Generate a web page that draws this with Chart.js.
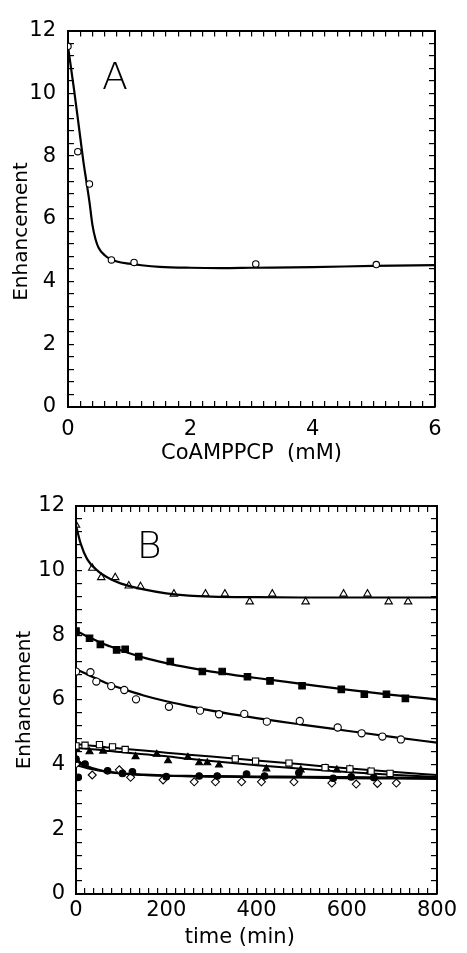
<!DOCTYPE html>
<html><head><meta charset="utf-8">
<script src="https://cdn.jsdelivr.net/npm/chart.js@4/dist/chart.umd.min.js"></script>
<style>
html,body{margin:0;padding:0;background:#fff;width:467px;height:953px;overflow:hidden}
canvas{position:absolute;left:0}
#ca{top:0}
#cb{top:470px}
</style></head><body>
<canvas id="ca" width="467" height="470"></canvas>
<canvas id="cb" width="467" height="483"></canvas>
<script>
// ---------- Panel A data ----------
const concA = [0, 0.16, 0.35, 0.71, 1.08, 3.07, 5.04];
const enhA  = [11.5, 8.14, 7.11, 4.69, 4.61, 4.56, 4.54];
const fitConcA = [0, 0.1, 0.2, 0.25, 0.3, 0.35, 0.4, 0.45, 0.5, 0.6, 0.7, 0.8, 1.0, 1.2, 1.5, 2, 2.5, 3, 4, 5, 6];
const fitEnhA  = [11.5, 10.1, 8.6, 7.85, 7.2, 6.55, 5.8, 5.35, 5.08, 4.84, 4.71, 4.64, 4.57, 4.52, 4.47, 4.44, 4.43, 4.44, 4.46, 4.5, 4.52];

// ---------- Panel B data ----------
const tTri = [0, 36, 56, 87, 117, 143, 217, 287, 330, 385, 435, 509, 593, 646, 693, 736];
const eTri = [11.41, 10.08, 9.79, 9.79, 9.53, 9.51, 9.28, 9.28, 9.28, 9.04, 9.28, 9.04, 9.28, 9.28, 9.04, 9.04];
const tSq  = [0, 30, 54, 90, 109, 139, 209, 280, 324, 380, 430, 501, 588, 639, 688, 730];
const eSq  = [8.13, 7.91, 7.72, 7.55, 7.57, 7.34, 7.19, 6.88, 6.88, 6.72, 6.59, 6.44, 6.33, 6.18, 6.18, 6.05];
const tCi  = [0, 32, 45, 78, 107, 133, 206, 275, 317, 373, 423, 496, 580, 633, 679, 720];
const eCi  = [6.88, 6.86, 6.57, 6.43, 6.31, 6.02, 5.79, 5.67, 5.56, 5.57, 5.33, 5.35, 5.15, 4.97, 4.87, 4.78];
const tOSq = [0, 20, 52, 81, 109, 353, 398, 472, 552, 607, 654, 696];
const eOSq = [4.58, 4.6, 4.62, 4.55, 4.47, 4.18, 4.11, 4.05, 3.91, 3.87, 3.8, 3.73];
const tFTri = [0, 30, 60, 132, 179, 204, 248, 273, 291, 317, 422, 498, 554, 578, 607, 650];
const eFTri = [4.5, 4.4, 4.42, 4.25, 4.32, 4.12, 4.23, 4.06, 4.06, 3.99, 3.87, 3.84, 3.89, 3.84, 3.86, 3.78];
const tFCi = [0, 5, 20, 70, 103, 125, 200, 273, 313, 378, 418, 494, 570, 610, 660];
const eFCi = [4.17, 3.61, 4.02, 3.81, 3.73, 3.78, 3.63, 3.65, 3.65, 3.71, 3.65, 3.75, 3.58, 3.62, 3.6];
const tDia = [0, 36, 96, 121, 193, 262, 309, 367, 411, 483, 567, 621, 668, 710];
const eDia = [4.02, 3.68, 3.84, 3.61, 3.53, 3.47, 3.47, 3.47, 3.47, 3.47, 3.43, 3.4, 3.42, 3.43];

const fitT    = [0, 10, 25, 50, 75, 100, 150, 200, 250, 300, 400, 500, 600, 700, 800];
const fitTri  = [11.4, 10.85, 10.35, 9.97, 9.75, 9.6, 9.42, 9.3, 9.23, 9.2, 9.18, 9.17, 9.17, 9.17, 9.17];
const fitSq   = [8.15, 8.07, 7.97, 7.8, 7.66, 7.53, 7.31, 7.14, 7.0, 6.88, 6.68, 6.5, 6.32, 6.16, 6.02];
const fitCi   = [6.95, 6.89, 6.79, 6.63, 6.48, 6.36, 6.14, 5.96, 5.81, 5.67, 5.44, 5.24, 5.05, 4.86, 4.68];
const fitOSq  = [4.63, 4.62, 4.6, 4.57, 4.53, 4.5, 4.44, 4.37, 4.31, 4.25, 4.13, 4.01, 3.89, 3.78, 3.68];
const fitFTri = [4.52, 4.51, 4.49, 4.46, 4.42, 4.39, 4.32, 4.26, 4.18, 4.11, 3.98, 3.87, 3.77, 3.69, 3.62];
const fitFCi  = [4.17, 4.06, 3.95, 3.84, 3.77, 3.73, 3.69, 3.66, 3.65, 3.64, 3.63, 3.62, 3.61, 3.6, 3.59];
const fitDia  = [4.0, 3.95, 3.89, 3.82, 3.77, 3.73, 3.68, 3.66, 3.64, 3.63, 3.61, 3.6, 3.58, 3.57, 3.56];

// ---------- helpers ----------
const FAM = '"DejaVu Sans", sans-serif';
const pts = (xs, ys) => xs.map((x, i) => ({x, y: ys[i]}));
const isMajor = (v, m) => Math.abs(v / m - Math.round(v / m)) < 1e-6;

function pointSet(xs, ys, style, r, fill) {
  return {data: pts(xs, ys), showLine: false, pointStyle: style, pointRadius: r,
    pointBackgroundColor: fill, pointBorderColor: '#000', pointBorderWidth: 1.1, order: 0};
}
function fitSet(xs, ys, w) {
  return {data: pts(xs, ys), showLine: true, pointRadius: 0, borderColor: '#000',
    borderWidth: w, cubicInterpolationMode: 'monotone', fill: false, order: 1};
}
const gridOpts = {drawOnChartArea: false, drawTicks: true, tickLength: -6, color: '#000', lineWidth: 1.2};
const borderOpts = {display: true, color: '#000', width: 2};

function scales(c) {
  return {
    x: {type: 'linear', position: 'bottom', min: c.xmin, max: c.xmax,
      ticks: {stepSize: c.xstep, autoSkip: false, maxTicksLimit: 1000, maxRotation: 0, minRotation: 0,
        color: '#000', font: {family: FAM, size: 21}, padding: c.xpad,
        callback: v => isMajor(v, c.xmajor) ? String(Math.round(v)) : ''},
      grid: gridOpts, border: borderOpts,
      title: {display: true, text: c.xtitle, color: '#000', font: {family: FAM, size: 21}, padding: {top: 0, bottom: c.xtitlePad}},
      afterFit: s => { s.height = c.bottomH; }},
    x2: {type: 'linear', position: 'top', min: c.xmin, max: c.xmax,
      ticks: {stepSize: c.xstep, autoSkip: false, maxTicksLimit: 1000, maxRotation: 0, callback: () => ''},
      grid: gridOpts, border: borderOpts,
      afterFit: s => { s.height = c.topH; }},
    y: {type: 'linear', position: 'left', min: 0, max: 12,
      ticks: {stepSize: 0.4, autoSkip: false, maxTicksLimit: 1000, color: '#000', font: {family: FAM, size: 21}, padding: c.ypad,
        callback: v => isMajor(v, 2) ? String(Math.round(v)) : ''},
      grid: gridOpts, border: borderOpts,
      title: {display: true, text: c.ytitle, color: '#000', font: {family: FAM, size: 20}, padding: {top: c.ytitlePad, bottom: 0}},
      afterFit: s => { s.width = c.leftW; }},
    y2: {type: 'linear', position: 'right', min: 0, max: 12,
      ticks: {stepSize: 0.4, autoSkip: false, maxTicksLimit: 1000, callback: () => ''},
      grid: gridOpts, border: borderOpts,
      afterFit: s => { s.width = c.rightW; }}
  };
}

const panelLabel = {
  id: 'panelLabel',
  afterDatasetsDraw(chart, args, o) {
    const {ctx, scales: {x, y}} = chart;
    ctx.save();
    ctx.font = o.font; ctx.fillStyle = '#000';
    ctx.textAlign = 'center'; ctx.textBaseline = 'middle';
    ctx.fillText(o.text, x.getPixelForValue(o.x), y.getPixelForValue(o.y));
    ctx.restore();
  }
};

const common = {responsive: false, animation: false, events: [], layout: {padding: 0}};

new Chart(document.getElementById('ca'), {
  type: 'scatter',
  data: {datasets: [
    pointSet(concA, enhA, 'circle', 3.2, '#fff'),
    fitSet(fitConcA, fitEnhA, 2.2)
  ]},
  plugins: [panelLabel],
  options: Object.assign({}, common, {
    plugins: {legend: {display: false}, tooltip: {enabled: false},
      panelLabel: {text: 'A', x: 0.77, y: 10.45, font: '200 38px ' + FAM}},
    scales: scales({xmin: 0, xmax: 6, xstep: 0.2, xmajor: 2, xpad: 16, xtitle: 'CoAMPPCP  (mM)', xtitlePad: 4,
      bottomH: 63, topH: 18, leftW: 68, rightW: 32, ypad: 18, ytitle: 'Enhancement    ', ytitlePad: 10})
  })
});

new Chart(document.getElementById('cb'), {
  type: 'scatter',
  data: {datasets: [
    pointSet(tTri, eTri, 'triangle', 4.3, 'rgba(255,255,255,0)'),
    pointSet(tSq, eSq, 'rect', 4.6, '#000'),
    pointSet(tCi, eCi, 'circle', 3.6, '#fff'),
    pointSet(tOSq, eOSq, 'rect', 4.4, '#fff'),
    pointSet(tFTri, eFTri, 'triangle', 4, '#000'),
    pointSet(tFCi, eFCi, 'circle', 3.3, '#000'),
    pointSet(tDia, eDia, 'rectRot', 4, '#fff'),
    fitSet(fitT, fitTri, 2.2),
    fitSet(fitT, fitSq, 2.2),
    fitSet(fitT, fitCi, 2.2),
    fitSet(fitT, fitOSq, 2),
    fitSet(fitT, fitFTri, 2),
    fitSet(fitT, fitFCi, 2.4),
    fitSet(fitT, fitDia, 2)
  ]},
  plugins: [panelLabel],
  options: Object.assign({}, common, {
    plugins: {legend: {display: false}, tooltip: {enabled: false},
      panelLabel: {text: 'B', x: 162, y: 10.7, font: '200 38px ' + FAM}},
    scales: scales({xmin: 0, xmax: 800, xstep: 20, xmajor: 200, xpad: 10, xtitle: 'time (min)     ', xtitlePad: 3,
      bottomH: 59, topH: 36, leftW: 76, rightW: 23, ypad: 17, ytitle: 'Enhancement', ytitlePad: 13})
  })
});
</script>
</body></html>
